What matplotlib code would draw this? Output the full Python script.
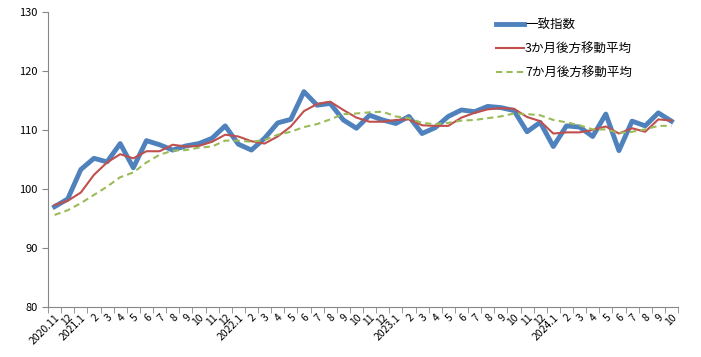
import matplotlib
matplotlib.use("Agg")
from matplotlib import pyplot as plt
from matplotlib.ticker import FixedLocator

plt.rcParams['font.family'] = ['Noto Sans CJK JP', 'DejaVu Sans']

# month labels 2020.11 - 2024.10
labels = ["2020.11", "12",
          "2021.1", "2", "3", "4", "5", "6", "7", "8", "9", "10", "11", "12",
          "2022.1", "2", "3", "4", "5", "6", "7", "8", "9", "10", "11", "12",
          "2023.1", "2", "3", "4", "5", "6", "7", "8", "9", "10", "11", "12",
          "2024.1", "2", "3", "4", "5", "6", "7", "8", "9", "10"]

# coincident index
ci = [97.0, 98.3, 103.3, 105.2, 104.6, 107.7, 103.6, 108.2, 107.5, 106.6,
      107.3, 107.7, 108.6, 110.7, 107.6, 106.6, 108.6, 111.2, 111.8, 116.5,
      114.2, 114.5, 111.7, 110.3, 112.5, 111.7, 111.1, 112.3, 109.4, 110.4,
      112.3, 113.4, 113.1, 114.0, 113.8, 113.3, 109.7, 111.3, 107.2, 110.7,
      110.5, 108.9, 112.7, 106.5, 111.5, 110.7, 112.9, 111.5]

# 3-month backward moving average
ma3 = [97.3, 98.0, 99.4, 102.4, 104.5, 105.9, 105.2, 106.4, 106.4, 107.5,
       107.2, 107.3, 108.0, 109.2, 108.9, 108.1, 107.7, 108.9, 110.6, 113.2,
       114.4, 114.8, 113.4, 112.1, 111.4, 111.4, 111.7, 111.8, 110.8, 110.7,
       110.7, 112.1, 112.9, 113.5, 113.7, 113.6, 112.2, 111.5, 109.4, 109.6,
       109.6, 110.0, 110.6, 109.4, 110.3, 109.7, 111.8, 111.6]

# 7-month backward moving average
ma7 = [95.6, 96.4, 97.6, 99.0, 100.4, 102.0, 102.8, 104.5, 105.8, 106.5,
       106.6, 107.0, 107.2, 108.2, 108.2, 108.0, 108.3, 109.2, 109.7, 110.5,
       111.0, 111.8, 112.7, 112.8, 113.0, 113.1, 112.3, 112.0, 111.2, 111.0,
       111.2, 111.6, 111.7, 112.0, 112.3, 112.8, 112.7, 112.5, 111.7, 111.3,
       110.8, 110.1, 110.1, 109.5, 109.7, 110.1, 110.7, 110.7]

x = list(range(len(labels)))

fig = plt.figure(figsize=(7.01, 3.57), dpi=100)
ax = fig.add_axes([48/701, 1-307/357, 630/701, 295/357])

ax.plot(x, ci, color="#4F81BD", lw=3.5, label="一致指数")
ax.plot(x, ma3, color="#C0504D", lw=1.5, label="3か月後方移動平均")
ax.plot(x, ma7, color="#9BBB59", lw=1.5, dashes=(3, 2), label="7か月後方移動平均")

ax.set_xlim(-0.5, len(labels) - 0.5)
ax.set_ylim(80, 130)
ax.set_yticks(range(80, 131, 10))

ax.set_xticks(x)
ax.set_xticklabels(labels, rotation=45, ha="right", rotation_mode="anchor", fontsize=7.5)
ax.tick_params(axis="x", length=0, pad=4)
ax.xaxis.set_minor_locator(FixedLocator([i - 0.5 for i in range(len(labels) + 1)]))
ax.tick_params(axis="x", which="minor", length=4, color="#868686")
ax.tick_params(axis="y", length=4, color="#868686", labelsize=8)

for s in ["top", "right"]:
    ax.spines[s].set_visible(False)
for s in ["left", "bottom"]:
    ax.spines[s].set_color("#868686")

ax.legend(loc="upper left", bbox_to_anchor=(490/701, 1-12/357),
          bbox_transform=fig.transFigure, frameon=False, fontsize=9,
          handlelength=2.2, handletextpad=0.1, labelspacing=0.9, borderpad=0)

fig.savefig("out.png", dpi=100)
